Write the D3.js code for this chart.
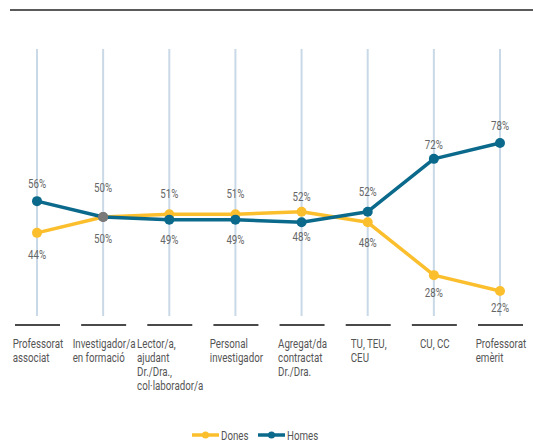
<!DOCTYPE html>
<html>
<head>
<meta charset="utf-8">
<script src="https://cdn.jsdelivr.net/npm/d3@7"></script>
<style>
  html, body { margin: 0; padding: 0; background: #fff; }
  svg { display: block; }
  text { font-family: "Roboto", "Liberation Sans", sans-serif; }
</style>
</head>
<body>
<script>
// Categories (each label split into lines)
const categories = [
  ["Professorat", "associat"],
  ["Investigador/a", "en formació"],
  ["Lector/a,", "ajudant", "Dr./Dra.,", "col·laborador/a"],
  ["Personal", "investigador"],
  ["Agregat/da", "contractat", "Dr./Dra."],
  ["TU, TEU,", "CEU"],
  ["CU, CC"],
  ["Professorat", "emèrit"]
];
const dones = [44, 50, 51, 51, 52, 48, 28, 22];
const homes = [56, 50, 49, 49, 48, 52, 72, 78];
const seriesNames = ["Dones", "Homes"];
const colors = { Dones: "#fbbf2e", Homes: "#0b6a8b" };

// label placement (px from the point to the label's middle)
const upperLabelDy = [-18, -30, -21, -21, -15, -20, -14, -18];
const lowerLabelDy = [22, 21, 20, 20, 14, 20, 17, 16];

const W = 533, H = 445;
const NARROW = 0.78; // horizontal squeeze for a condensed look
const svg = d3.select("body").append("svg").attr("width", W).attr("height", H);

const keys = categories.map((c, i) => i);
const x = d3.scalePoint().domain(keys).range([37, 500]);
const y = d3.scaleLinear().domain([22, 78]).range([291, 143]);

// draws condensed text anchored at (px, py)
function narrowText(parent, px, py, str, anchor, size, fill) {
  const g = parent.append("g").attr("transform", `translate(${px},${py}) scale(${NARROW},1)`);
  return g.append("text").attr("text-anchor", anchor).attr("font-size", size)
    .attr("fill", fill).text(str);
}

// top rule
svg.append("line").attr("x1", 10).attr("x2", W).attr("y1", 10).attr("y2", 10)
  .attr("stroke", "#5a5a5a").attr("stroke-width", 2);

// vertical guides
svg.append("g").selectAll("line").data(keys).join("line")
  .attr("x1", d => x(d)).attr("x2", d => x(d))
  .attr("y1", 49).attr("y2", 316)
  .attr("stroke", "#c9d9e7").attr("stroke-width", 2);

// short rules above category labels
svg.append("g").selectAll("line").data(keys).join("line")
  .attr("x1", d => x(d) - 22).attr("x2", d => x(d) + 23)
  .attr("y1", 325).attr("y2", 325)
  .attr("stroke", "#4a4a4a").attr("stroke-width", 1.8);

// category labels: left-aligned block, centred on the category
const catG = svg.append("g");
categories.forEach((lines, i) => {
  const g = catG.append("g");
  const t = g.append("text").attr("font-size", 12.5).attr("fill", "#555");
  lines.forEach((ln, j) => {
    t.append("tspan").attr("x", 0).attr("y", 348 + j * 14).text(ln);
  });
  let w = 0;
  t.selectAll("tspan").each(function () { w = Math.max(w, this.getComputedTextLength()); });
  w *= NARROW;
  g.attr("transform", `translate(${x(i) - w / 2 + 1},0) scale(${NARROW},1)`);
});

const line = d3.line().x((d, i) => x(i)).y(d => y(d));
const series = [
  { name: "Dones", values: dones, other: homes },
  { name: "Homes", values: homes, other: dones }
];

series.forEach(s => {
  svg.append("path").datum(s.values)
    .attr("d", line).attr("fill", "none")
    .attr("stroke", colors[s.name]).attr("stroke-width", 3.5)
    .attr("stroke-linejoin", "round");
});
series.forEach(s => {
  svg.append("g").selectAll("circle").data(s.values).join("circle")
    .attr("cx", (d, i) => x(i)).attr("cy", d => y(d)).attr("r", 5)
    .attr("fill", (d, i) => d === s.other[i] ? "#7a7a7a" : colors[s.name]);
});

// value labels: the higher value above, the lower below
const valG = svg.append("g");
series.forEach(s => {
  s.values.forEach((d, i) => {
    const above = s.name === "Homes" ? d >= s.other[i] : d > s.other[i];
    const py = y(d) + (above ? upperLabelDy[i] : lowerLabelDy[i]) + 4.5;
    narrowText(valG, x(i), py, d + "%", "middle", 12.5, "#666");
  });
});

// legend
const leg = svg.append("g");
const legX = [192, 258];
seriesNames.forEach((n, i) => {
  const g = leg.append("g").attr("transform", `translate(${legX[i]},435)`);
  g.append("line").attr("x1", 0).attr("x2", 27).attr("y1", 0).attr("y2", 0)
    .attr("stroke", colors[n]).attr("stroke-width", 3.5);
  g.append("circle").attr("cx", 13.5).attr("cy", 0).attr("r", 3.5).attr("fill", colors[n]);
  narrowText(g, 29, 4.5, n, "start", 12.5, "#555");
});
</script>
</body>
</html>
